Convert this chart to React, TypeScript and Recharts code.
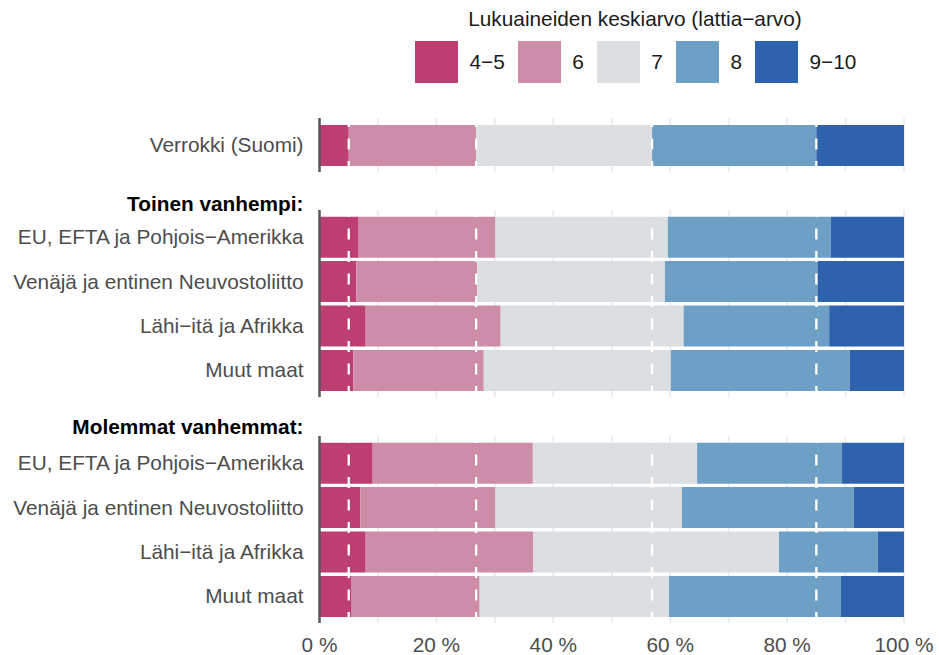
import React from 'react';
import { BarChart, Bar, XAxis, YAxis, CartesianGrid, ReferenceLine } from 'recharts';

const FONT = '"Liberation Sans", Arial, Helvetica, sans-serif';
const FS = 20.8;

const gradeLabels = ['4−5', '6', '7', '8', '9−10'];
const gradeKeys = ['g45', 'g6', 'g7', 'g8', 'g910'];
const COLORS = ['#bd3e70', '#cd8ca8', '#dcdfe2', '#6ea0c6', '#2f62ac'];

const controlLabels = ['Verrokki (Suomi)'];
const controlValues = [[5.0, 21.8, 30.1, 28.1, 15.0]];

const regionLabels = [
  'EU, EFTA ja Pohjois−Amerikka',
  'Venäjä ja entinen Neuvostoliitto',
  'Lähi−itä ja Afrikka',
  'Muut maat',
];

// Toinen vanhempi
const oneParentValues = [
  [6.7, 23.4, 29.5, 27.9, 12.5],
  [6.3, 20.7, 32.1, 26.1, 14.8],
  [7.9, 23.1, 31.3, 24.9, 12.8],
  [5.8, 22.3, 32.0, 30.6, 9.3],
];

// Molemmat vanhemmat
const bothParentsValues = [
  [9.1, 27.4, 28.1, 24.8, 10.6],
  [7.0, 23.1, 31.9, 29.4, 8.6],
  [7.9, 28.7, 42.0, 16.9, 4.5],
  [5.5, 21.9, 32.4, 29.4, 10.8],
];

const xTicks = [0, 10, 20, 30, 40, 50, 60, 70, 80, 90, 100];

const toRows = (labels: string[], values: number[][]) =>
  labels.map((name, i) => {
    const row: Record<string, string | number> = { name };
    gradeKeys.forEach((k, j) => (row[k] = values[i][j]));
    return row;
  });

// dashed reference lines = cumulative shares of the control group
const refLines = controlValues[0].slice(0, 4).reduce<number[]>((acc, v) => {
  acc.push((acc.length ? acc[acc.length - 1] : 0) + v);
  return acc;
}, []);

type PanelProps = {
  rows: Record<string, string | number>[];
  top: number;
  plotHeight: number;
  pad: number;
  showAxis?: boolean;
};

const Panel = ({ rows, top, plotHeight, pad, showAxis = false }: PanelProps) => {
  const axisHeight = 40;
  return (
    <div style={{ position: 'absolute', left: 0, top }}>
      <BarChart
        width={939}
        height={showAxis ? plotHeight + axisHeight : plotHeight}
        data={rows}
        layout="vertical"
        margin={{ top: 0, right: 35, bottom: 0, left: 0 }}
      >
        <CartesianGrid horizontal={false} stroke="#ebebeb" strokeWidth={1.8} />
        <XAxis
          type="number"
          domain={[0, 100]}
          ticks={xTicks}
          interval={0}
          hide={!showAxis}
          height={axisHeight}
          axisLine={false}
          tickLine={false}
          tickSize={0}
          tickMargin={14.2}
          tick={{ fill: '#4d4d4d', fontSize: FS, fontFamily: FONT }}
          tickFormatter={(v: number) => (v % 20 === 0 ? `${v} %` : '')}
        />
        {gradeKeys.map((k, i) => (
          <Bar key={k} dataKey={k} name={gradeLabels[i]} stackId="a" fill={COLORS[i]} barSize={41} isAnimationActive={false} />
        ))}
        {refLines.map((v) => (
          <ReferenceLine key={v} x={v} stroke="#ffffff" strokeWidth={2.3} strokeDasharray="11 11.5" />
        ))}
        <YAxis
          type="category"
          dataKey="name"
          width={319.5}
          padding={{ top: pad, bottom: pad }}
          axisLine={{ stroke: '#595959', strokeWidth: 2.5 }}
          tickLine={false}
          tickSize={0}
          tickMargin={16}
          interval={0}
          tick={{ fill: '#4d4d4d', fontSize: FS, fontFamily: FONT }}
        />
      </BarChart>
    </div>
  );
};

const headerStyle: React.CSSProperties = {
  position: 'absolute',
  left: 0,
  width: 303.5,
  textAlign: 'right',
  fontWeight: 'bold',
  fontSize: FS,
  lineHeight: `${FS}px`,
  color: '#000',
};

export default function App() {
  return (
    <div
      style={{
        position: 'absolute',
        left: 0,
        top: 0,
        width: 939,
        height: 655,
        background: '#fff',
        fontFamily: FONT,
      }}
    >
      {/* legend */}
      <div
        style={{
          position: 'absolute',
          left: 435,
          width: 400,
          top: 9.1,
          textAlign: 'center',
          fontSize: FS,
          lineHeight: `${FS}px`,
          color: '#1a1a1a',
        }}
      >
        Lukuaineiden keskiarvo (lattia−arvo)
      </div>
      <div style={{ position: 'absolute', left: 415, top: 41, display: 'flex', alignItems: 'center' }}>
        {gradeLabels.map((g, i) => (
          <div key={g} style={{ display: 'flex', alignItems: 'center', marginRight: 13 }}>
            <div style={{ width: 43, height: 42, background: COLORS[i] }} />
            <span style={{ marginLeft: 11.5, fontSize: FS, color: '#1a1a1a' }}>{g}</span>
          </div>
        ))}
      </div>

      <Panel rows={toRows(controlLabels, controlValues)} top={118} plotHeight={54} pad={0} />

      <div style={{ ...headerStyle, top: 194.2 }}>Toinen vanhempi:</div>
      <Panel rows={toRows(regionLabels, oneParentValues)} top={210} plotHeight={187} pad={4.7} />

      <div style={{ ...headerStyle, top: 417.4 }}>Molemmat vanhemmat:</div>
      <Panel rows={toRows(regionLabels, bothParentsValues)} top={436} plotHeight={187} pad={4.7} showAxis />
    </div>
  );
}
